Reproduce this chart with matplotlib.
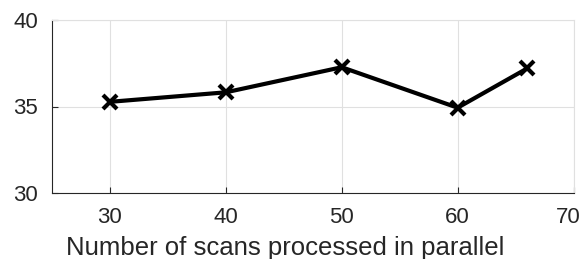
import matplotlib
matplotlib.use("Agg")
import matplotlib.pyplot as plt
import matplotlib.transforms as mtransforms

x_vals = [30, 40, 50, 60, 66]
y_vals = [35.27, 35.82, 37.27, 34.93, 37.2]
x_ticks = [30, 40, 50, 60, 70]
y_ticks = [30, 35, 40]
xlabel = "Number of scans processed in parallel"

plt.rcParams['font.family'] = ['Liberation Sans', 'DejaVu Sans']
fig = plt.figure(figsize=(5.84, 2.59), dpi=100)
ax = fig.add_axes([52/584, 1 - 193/259, (573.5-52)/584, (193-20)/259])
ax.plot(x_vals, y_vals, color='black', linewidth=3, marker='x', markersize=10, markeredgewidth=3)
ax.set_xlim(25, 70)
ax.set_ylim(30, 40)
ax.set_xticks(x_ticks)
ax.set_yticks(y_ticks)
ax.grid(True, color='#e0e0e0', linewidth=0.8)
ax.set_axisbelow(True)
for s in ['top', 'right']:
    ax.spines[s].set_color('#e0e0e0')
for s in ['bottom', 'left']:
    ax.spines[s].set_color('#262626')
ax.tick_params(direction='in', length=4, colors='#262626', labelsize=16)
ax.tick_params(axis='x', pad=10)
ax.tick_params(axis='y', pad=10)
ax.set_xlabel(xlabel, fontsize=18.5, color='#262626')
ax.xaxis.set_label_coords((285 - 52) / 521.5, -(259 - 193 - 66 + 62) / 173 - 0.0, transform=ax.transAxes)
ax.xaxis.label.set_verticalalignment('center')
ax.xaxis.set_label_coords((285 - 52) / 521.5, -(248 - 193) / 173)
# shift last tick label slightly left so it fits like the reference
last = ax.get_xticklabels()[-1]
last.set_transform(last.get_transform() + mtransforms.ScaledTranslation(-5/100, 0, fig.dpi_scale_trans))
fig.savefig("out.png", dpi=100)
